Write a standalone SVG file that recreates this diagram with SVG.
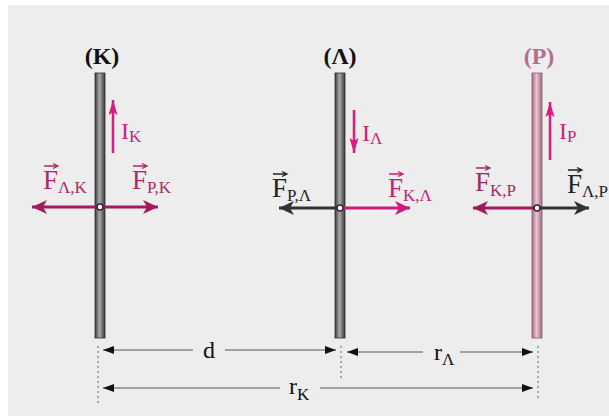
<svg xmlns="http://www.w3.org/2000/svg" width="609" height="416" viewBox="0 0 609 416">
<defs>
<linearGradient id="gRod" x1="0" x2="1" y1="0" y2="0">
<stop offset="0" stop-color="#3c3c3c"/><stop offset="0.45" stop-color="#a8a8a8"/><stop offset="0.6" stop-color="#8a8a8a"/><stop offset="1" stop-color="#3a3a3a"/>
</linearGradient>
<linearGradient id="gRodP" x1="0" x2="1" y1="0" y2="0">
<stop offset="0" stop-color="#a06c80"/><stop offset="0.45" stop-color="#e8c3d0"/><stop offset="0.6" stop-color="#d9aebe"/><stop offset="1" stop-color="#9c6a7e"/>
</linearGradient>
<marker id="hMag" markerUnits="userSpaceOnUse" markerWidth="16" markerHeight="14" refX="15" refY="7" orient="auto"><path d="M0,0 L15,7 L0,14 L4,7 z" fill="#a3195f"/></marker>
<marker id="hBright" markerUnits="userSpaceOnUse" markerWidth="16" markerHeight="14" refX="15" refY="7" orient="auto"><path d="M0,0 L15,7 L0,14 L4,7 z" fill="#c81b7b"/></marker>
<marker id="hGray" markerUnits="userSpaceOnUse" markerWidth="16" markerHeight="14" refX="15" refY="7" orient="auto"><path d="M0,0 L15,7 L0,14 L4,7 z" fill="#333333"/></marker>
<marker id="hCur" markerUnits="userSpaceOnUse" markerWidth="16" markerHeight="10" refX="15" refY="4.5" orient="auto"><path d="M0,0 L15,4.5 L0,9 L3,4.5 z" fill="#d51e80"/></marker>
<marker id="hDim" markerUnits="userSpaceOnUse" markerWidth="12" markerHeight="8" refX="11" refY="4" orient="auto"><path d="M0,0 L11,4 L0,8 z" fill="#111"/></marker>
</defs>
<style>
.lbl{font-family:"Liberation Serif","Times New Roman",serif;font-weight:bold;font-size:24px;text-anchor:middle}
.t{font-family:"Liberation Serif","Times New Roman",serif;font-size:27px}
.ti{font-family:"Liberation Serif","Times New Roman",serif;font-size:24px}
.sub{font-size:17px}
.dim{stroke:#555;stroke-width:1;fill:none}
.dot{stroke:#777;stroke-width:1.2;stroke-dasharray:2,3;fill:none}
.rod{stroke:#2e2e2e;stroke-width:0.8}
.rodP{stroke:#8e5c70;stroke-width:0.8}
.pt{fill:#fff;stroke:#3a2030;stroke-width:1.4}
</style>
<rect width="609" height="416" fill="#ffffff"/>
<rect x="8" y="5" width="601" height="411" fill="#ededed"/>

<g id="wireK">
<text class="lbl" x="102" y="64" fill="#111">(K)</text>
<rect class="rod" x="95" y="73" width="10" height="265" fill="url(#gRod)"/>
<line x1="113" y1="153" x2="113" y2="100" stroke="#d51e80" stroke-width="2.5" marker-end="url(#hCur)"/>
<text class="ti" x="121" y="139" fill="#d01f7e">I<tspan class="sub" dy="3">K</tspan></text>
<line x1="100" y1="207" x2="32" y2="207" stroke="#a3195f" stroke-width="3" marker-end="url(#hMag)"/>
<line x1="100" y1="207" x2="158" y2="207" stroke="#a3195f" stroke-width="3" marker-end="url(#hMag)"/>
<circle class="pt" cx="100" cy="207" r="3"/>
<text class="t" x="43" y="189" fill="#ab2a6c">F<tspan class="sub" dy="4">Λ,K</tspan></text>
<path d="M44,166 H57 M53,163.5 L58,166 L53,168.5" stroke="#ab2a6c" stroke-width="1.3" fill="none"/>
<text class="t" x="132" y="189" fill="#ab2a6c">F<tspan class="sub" dy="4">P,K</tspan></text>
<path d="M133,166 H146 M142,163.5 L147,166 L142,168.5" stroke="#ab2a6c" stroke-width="1.3" fill="none"/>
</g>

<g id="wireL">
<text class="lbl" x="340" y="64" fill="#111">(Λ)</text>
<rect class="rod" x="335" y="73" width="10" height="265" fill="url(#gRod)"/>
<line x1="354" y1="110" x2="354" y2="153" stroke="#d51e80" stroke-width="2.5" marker-end="url(#hCur)"/>
<text class="ti" x="362" y="141" fill="#d01f7e">I<tspan class="sub" dy="3">Λ</tspan></text>
<line x1="340" y1="208" x2="279" y2="208" stroke="#333333" stroke-width="3" marker-end="url(#hGray)"/>
<line x1="340" y1="208" x2="410" y2="208" stroke="#c81b7b" stroke-width="3" marker-end="url(#hBright)"/>
<circle class="pt" cx="340" cy="208" r="3"/>
<text class="t" x="272" y="197" fill="#222">F<tspan class="sub" dy="4">P,Λ</tspan></text>
<path d="M273,174 H286 M282,171.5 L287,174 L282,176.5" stroke="#222" stroke-width="1.3" fill="none"/>
<text class="t" x="388" y="197" fill="#c51f7a">F<tspan class="sub" dy="4">K,Λ</tspan></text>
<path d="M389,174 H402 M398,171.5 L403,174 L398,176.5" stroke="#c51f7a" stroke-width="1.3" fill="none"/>
</g>

<g id="wireP">
<text class="lbl" x="539" y="64" fill="#b0708e">(P)</text>
<rect class="rodP" x="532" y="73" width="10" height="265" fill="url(#gRodP)"/>
<line x1="550" y1="160" x2="550" y2="102" stroke="#d51e80" stroke-width="2.5" marker-end="url(#hCur)"/>
<text class="ti" x="559" y="139" fill="#d01f7e">I<tspan class="sub" dy="3">P</tspan></text>
<line x1="537" y1="208" x2="473" y2="208" stroke="#a3195f" stroke-width="3" marker-end="url(#hMag)"/>
<line x1="537" y1="208" x2="589" y2="208" stroke="#333333" stroke-width="3" marker-end="url(#hGray)"/>
<circle class="pt" cx="537" cy="208" r="3"/>
<text class="t" x="475" y="191" fill="#9e2b63">F<tspan class="sub" dy="5">K,P</tspan></text>
<path d="M476,168 H489 M485,165.5 L490,168 L485,170.5" stroke="#9e2b63" stroke-width="1.3" fill="none"/>
<text class="t" x="567" y="193" fill="#222">F<tspan class="sub" dy="4">Λ,P</tspan></text>
<path d="M568,170 H581 M577,167.5 L582,170 L577,172.5" stroke="#222" stroke-width="1.3" fill="none"/>
</g>

<g id="connectors">
<line class="dot" x1="98" y1="346" x2="98" y2="406"/>
<line class="dot" x1="341" y1="346" x2="341" y2="380"/>
<line class="dot" x1="538" y1="346" x2="538" y2="400"/>
<line class="dim" x1="193" y1="350" x2="103" y2="350" marker-end="url(#hDim)"/>
<line class="dim" x1="225" y1="350" x2="336" y2="350" marker-end="url(#hDim)"/>
<line class="dim" x1="423" y1="352" x2="347" y2="352" marker-end="url(#hDim)"/>
<line class="dim" x1="460" y1="352" x2="533" y2="352" marker-end="url(#hDim)"/>
<line class="dim" x1="280" y1="388" x2="103" y2="388" marker-end="url(#hDim)"/>
<line class="dim" x1="320" y1="388" x2="533" y2="388" marker-end="url(#hDim)"/>
<text class="ti" x="209" y="358" text-anchor="middle" fill="#111">d</text>
<text class="ti" x="434" y="360" fill="#111">r<tspan class="sub" dy="5">Λ</tspan></text>
<text class="ti" x="289" y="394" fill="#111">r<tspan class="sub" dy="6">K</tspan></text>
</g>
</svg>
